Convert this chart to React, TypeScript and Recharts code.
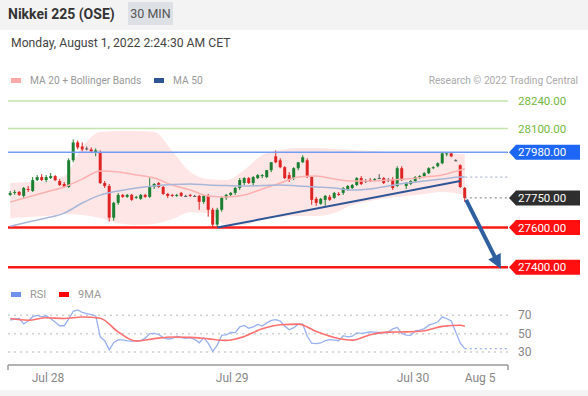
import React from 'react';
import { ComposedChart, Bar, Line, Area, XAxis, YAxis, ReferenceLine } from 'recharts';

const FONT = 'Roboto, "Open Sans", Arial, sans-serif';

// 30 min candles, Jul 28 -> Aug 1
const opens = [
  27765, 27775, 27780, 27760, 27795, 27785, 27840, 27855, 27840, 27850,
  27860, 27835, 27820, 27805, 27940, 28030, 28010, 28000, 27995, 27980,
  27980, 27825, 27810, 27650, 27725, 27765, 27755, 27765, 27750, 27745,
  27765, 27755, 27805, 27825, 27805, 27770, 27765, 27760, 27775, 27760,
  27765, 27760, 27760, 27730, 27760, 27690, 27615, 27690, 27750, 27765,
  27775, 27800, 27825, 27850, 27825, 27850, 27860, 27855, 27890, 27960,
  27940, 27905, 27865, 27850, 27900, 27930, 27940, 27855, 27745, 27720,
  27740, 27755, 27750, 27770, 27775, 27790, 27800, 27815, 27850, 27835,
  27840, 27840, 27850, 27850, 27840, 27845, 27810, 27900, 27810, 27820,
  27835, 27850, 27860, 27875, 27900, 27910, 27925, 27970, 27975, 27940,
  27915, 27800,
];
const highs = [
  27785, 27790, 27785, 27805, 27810, 27855, 27865, 27870, 27865, 27875,
  27865, 27845, 27830, 27950, 28045, 28040, 28030, 28010, 28005, 28000,
  27990, 27835, 27820, 27730, 27775, 27770, 27770, 27770, 27760, 27770,
  27770, 27850, 27825, 27830, 27810, 27775, 27770, 27770, 27780, 27765,
  27770, 27765, 27765, 27765, 27770, 27700, 27700, 27755, 27770, 27780,
  27805, 27850, 27855, 27855, 27860, 27870, 27870, 27890, 27930, 27990,
  27950, 27910, 27880, 27905, 27930, 27965, 27950, 27860, 27755, 27750,
  27765, 27765, 27780, 27780, 27805, 27815, 27820, 27855, 27860, 27845,
  27850, 27850, 27870, 27855, 27850, 27855, 27910, 27910, 27830, 27840,
  27860, 27865, 27880, 27905, 27910, 27930, 27980, 27980, 27980, 27945,
  27920, 27805,
];
const lows = [
  27760, 27765, 27760, 27750, 27780, 27780, 27835, 27835, 27830, 27845,
  27835, 27810, 27800, 27800, 27930, 27995, 27985, 27990, 27980, 27960,
  27820, 27800, 27630, 27635, 27715, 27750, 27750, 27735, 27745, 27740,
  27750, 27750, 27795, 27800, 27765, 27750, 27755, 27755, 27755, 27755,
  27755, 27755, 27690, 27720, 27655, 27600, 27600, 27680, 27740, 27755,
  27765, 27790, 27815, 27820, 27815, 27845, 27850, 27850, 27880, 27925,
  27900, 27845, 27830, 27840, 27890, 27925, 27850, 27715, 27710, 27715,
  27710, 27735, 27745, 27760, 27765, 27785, 27795, 27810, 27815, 27825,
  27830, 27835, 27845, 27820, 27830, 27790, 27805, 27835, 27795, 27815,
  27830, 27845, 27855, 27870, 27895, 27905, 27920, 27960, 27955, 27935,
  27800, 27730,
];
const closes = [
  27775, 27780, 27765, 27800, 27790, 27840, 27855, 27840, 27855, 27860,
  27840, 27815, 27805, 27940, 28030, 28005, 27995, 28000, 27985, 27990,
  27825, 27810, 27650, 27725, 27765, 27755, 27765, 27740, 27755, 27765,
  27755, 27805, 27820, 27805, 27770, 27760, 27760, 27765, 27760, 27760,
  27760, 27760, 27730, 27760, 27690, 27615, 27690, 27750, 27765, 27775,
  27800, 27840, 27850, 27825, 27855, 27865, 27865, 27890, 27930, 27930,
  27905, 27850, 27840, 27900, 27930, 27955, 27855, 27740, 27725, 27745,
  27760, 27740, 27775, 27765, 27800, 27810, 27815, 27850, 27820, 27835,
  27835, 27845, 27850, 27825, 27840, 27800, 27900, 27840, 27825, 27835,
  27855, 27860, 27875, 27900, 27905, 27925, 27975, 27975, 27960, 27940,
  27805, 27750,
];

// indicator readings, sampled every 4 candles
const bandIdx = [0, 4, 8, 12, 16, 20, 24, 28, 32, 36, 40, 44, 48, 52, 56, 60, 64, 68, 72, 76, 80, 84, 88, 92, 96, 100, 101];
const bbUpper = [27825, 27830, 27835, 27860, 28007, 28083, 28088, 28088, 28083, 27987, 27881, 27845, 27840, 27891, 27967, 27992, 28002, 28002, 27997, 27992, 27987, 27982, 27982, 27977, 27977, 27972, 27972];
const bbLower = [27648, 27653, 27658, 27668, 27663, 27648, 27623, 27613, 27618, 27643, 27678, 27673, 27613, 27613, 27643, 27653, 27658, 27658, 27673, 27714, 27734, 27749, 27759, 27769, 27780, 27769, 27759];
const ma20 = [27729, 27754, 27780, 27805, 27845, 27886, 27881, 27866, 27850, 27815, 27790, 27759, 27754, 27764, 27795, 27825, 27855, 27860, 27845, 27835, 27835, 27840, 27845, 27855, 27866, 27891, 27896];
const ma50 = [27607, 27628, 27648, 27673, 27724, 27764, 27785, 27800, 27810, 27817, 27820, 27815, 27812, 27810, 27812, 27815, 27810, 27805, 27800, 27790, 27795, 27810, 27825, 27835, 27845, 27855, 27855];
const rsi9ma = [66.4, 64.6, 67.3, 66.4, 68.1, 66.8, 51.8, 42.0, 44.6, 46.4, 46.0, 44.3, 42.7, 47.0, 55.3, 59.7, 60.3, 52.4, 45.9, 43.0, 48.9, 51.7, 51.9, 53.1, 57.9, 59.2, 58.1];

const rsiValues = [
  64.6, 65.9, 66.4, 60.5, 63.8, 68.4, 69.8, 68.2, 69.4, 66.2,
  62.4, 58.6, 58.6, 66.0, 74.3, 75.7, 73.0, 71.8, 70.6, 69.2,
  46.4, 42.4, 32.4, 40.5, 43.2, 43.3, 42.2, 41.8, 42.3, 42.4,
  45.1, 50.0, 50.2, 49.1, 45.7, 44.2, 44.5, 47.3, 45.7, 44.9,
  45.8, 43.8, 40.1, 45.6, 39.4, 30.8, 37.6, 48.4, 48.7, 51.4,
  51.1, 57.4, 58.9, 55.9, 57.4, 60.1, 58.3, 61.7, 64.4, 65.2,
  63.6, 58.1, 54.2, 56.5, 60.2, 60.3, 47.2, 39.6, 39.2, 39.9,
  42.5, 43.5, 42.9, 42.3, 47.8, 46.6, 47.2, 50.8, 50.4, 51.0,
  52.0, 51.6, 51.3, 51.0, 51.8, 55.2, 56.7, 50.2, 48.4, 48.2,
  53.0, 53.8, 55.5, 59.2, 60.8, 62.6, 68.3, 66.2, 63.7, 51.6,
  39.7, 33.8,
];

// key levels and drawings
const levelPrices = [28240, 28100, 27980, 27750, 27600, 27400];
const levelKinds = ['target', 'target', 'pivot', 'last', 'support', 'support'];
const trendIdx = [46, 100];
const trendPrice = [27600, 27835];
const arrowIdx = [101.3, 108.6];
const arrowPrice = [27740, 27410];
const maMarkIdx = [100, 110.6];
const maMarkPrice = 27855;
const lastMarkIdx = [101, 110.6];
const lastPrice = 27750;
const rsiTailIdx = [101, 110.6];

const xTickIdx = [8.4, 49.3, 89.5, 104.4];
const xTickLabels = ['Jul 28', 'Jul 29', 'Jul 30', 'Aug 5'];
const rsiTicks = [30, 50, 70];

const X_DOMAIN: [number, number] = [-0.5, 110.6];
const PRICE_DOMAIN: [number, number] = [27330, 28290];
const RSI_DOMAIN: [number, number] = [16, 80];

const GREEN = '#1d7f31';
const RED = '#e02424';

const candles = opens.map((o, i) => ({ i, open: o, high: highs[i], low: lows[i], close: closes[i] }));
const bandData = bandIdx.map((i, k) => ({ i, up: bbUpper[k], lo: bbLower[k], ma20: ma20[k], ma50: ma50[k], ma9: rsi9ma[k] }));
const rsiData = rsiValues.map((v, i) => ({ i, v }));
const trendData = trendIdx.map((i, k) => ({ i, v: trendPrice[k] }));
const arrowData = arrowIdx.map((i, k) => ({ i, v: arrowPrice[k] }));
const maMarkData = maMarkIdx.map((i) => ({ i, v: maMarkPrice }));
const lastMarkData = lastMarkIdx.map((i) => ({ i, v: lastPrice }));
const rsiTailData = rsiTailIdx.map((i) => ({ i, v: rsiValues[rsiValues.length - 1] }));

function CandleShape(props: any) {
  const { x, y, width, height, payload } = props;
  if (x == null || y == null || !payload) return null;
  const top = Math.min(y, y + height);
  const h = Math.abs(height);
  const { open, close, high, low } = payload;
  const span = high - low || 1;
  const py = (p: number) => top + ((high - p) / span) * h;
  const cx = x + width / 2;
  const color = close > open ? GREEN : close < open ? RED : '#555';
  const bTop = py(Math.max(open, close));
  const bBot = py(Math.min(open, close));
  return (
    <g>
      <line x1={cx} x2={cx} y1={top} y2={top + h} stroke={color} strokeWidth={1} />
      <rect x={cx - 1.5} y={bTop} width={3} height={Math.max(1, bBot - bTop)} fill={color} />
    </g>
  );
}

function LevelTag(props: any) {
  const { x, y, payload } = props;
  const k = levelPrices.indexOf(payload.value);
  const kind = levelKinds[k];
  const label = Number(payload.value).toFixed(2);
  if (kind === 'target') {
    return (
      <text x={x + 10} y={y + 4} fill="#72b83e" fontSize={11.5} fontFamily={FONT}>
        {label}
      </text>
    );
  }
  const fill = kind === 'pivot' ? '#1e66f5' : kind === 'last' ? '#2e2e2e' : '#ff0f0f';
  return (
    <g>
      <path d={`M${x + 1},${y} L${x + 8},${y - 7.5} L${x + 72},${y - 7.5} L${x + 72},${y + 7.5} L${x + 8},${y + 7.5} Z`} fill={fill} />
      <text x={x + 10} y={y + 4} fill="#fff" fontSize={11.5} fontFamily={FONT}>
        {label}
      </text>
    </g>
  );
}

function RsiTick(props: any) {
  const { x, y, payload } = props;
  return (
    <text x={x + 10} y={y + 4} fill="#888" fontSize={12} fontFamily={FONT}>
      {payload.value}
    </text>
  );
}

function DateTick(props: any) {
  const { x, y, payload } = props;
  const k = xTickIdx.indexOf(payload.value);
  if (k < 0) return <line x1={x} x2={x} y1={y} y2={y + 5} stroke="#9a9a9a" strokeWidth={1.5} />;
  return (
    <text x={x} y={y + 17} fill="#888" fontSize={12} textAnchor="middle" fontFamily={FONT}>
      {xTickLabels[k]}
    </text>
  );
}

export default function App() {
  const arrowPts: { x: number; y: number }[] = [];
  const arrowDot = (p: any) => {
    arrowPts[p.index] = { x: p.cx, y: p.cy };
    if (p.index !== 1 || !arrowPts[0]) return <g key={`ad${p.index}`} />;
    const a = Math.atan2(p.cy - arrowPts[0].y, p.cx - arrowPts[0].x);
    const ux = Math.cos(a);
    const uy = Math.sin(a);
    const tipX = p.cx + ux * 4;
    const tipY = p.cy + uy * 4;
    const bx = p.cx - ux * 10;
    const by = p.cy - uy * 10;
    const d = `M${tipX},${tipY} L${bx - uy * 7},${by + ux * 7} L${bx + uy * 7},${by - ux * 7} Z`;
    return <path key="ad1" d={d} fill="#2f5fa0" />;
  };

  const label: React.CSSProperties = { position: 'absolute', whiteSpace: 'nowrap' };

  return (
    <div style={{ position: 'absolute', left: 0, top: 0, width: 588, height: 396, background: '#fff', overflow: 'hidden', fontFamily: FONT }}>
      <div style={{ position: 'absolute', left: 0, top: 0, width: 588, height: 30, background: '#f3f3f3' }} />
      <div style={{ ...label, left: 8, top: 6, fontSize: 14, lineHeight: '16px', fontWeight: 700, color: '#333' }}>Nikkei 225 (OSE)</div>
      <div style={{ ...label, left: 128, top: 2, width: 45, height: 23, background: '#dde1e6', color: '#555', fontSize: 12.5, display: 'flex', alignItems: 'center', justifyContent: 'center' }}>30 MIN</div>
      <div style={{ ...label, left: 11, top: 35, fontSize: 12.2, lineHeight: '16px', color: '#444' }}>Monday, August 1, 2022 2:24:30 AM CET</div>

      <div style={{ ...label, left: 11, top: 78, width: 10, height: 5, background: '#ffaaaa' }} />
      <div style={{ ...label, left: 30, top: 74, fontSize: 10.2, lineHeight: '13px', color: '#999' }}>MA 20 + Bollinger Bands</div>
      <div style={{ ...label, left: 154, top: 78, width: 10, height: 5, background: '#2f5597' }} />
      <div style={{ ...label, left: 173, top: 74, fontSize: 10.2, lineHeight: '13px', color: '#999' }}>MA 50</div>
      <div style={{ ...label, right: 10, top: 74, fontSize: 10.2, lineHeight: '13px', color: '#aaa' }}>Research © 2022 Trading Central</div>

      <div style={{ position: 'absolute', left: 0, top: 91 }}>
        <ComposedChart width={588} height={190} data={candles} margin={{ top: 0, right: 0, bottom: 0, left: 8 }}>
          <XAxis type="number" dataKey="i" domain={X_DOMAIN} allowDataOverflow hide />
          <YAxis
            orientation="right"
            type="number"
            domain={PRICE_DOMAIN}
            allowDataOverflow
            ticks={levelPrices}
            interval={0}
            tick={(p: any) => <LevelTag {...p} />}
            tickSize={0}
            tickMargin={0}
            axisLine={false}
            tickLine={false}
            width={80}
          />
          <Area data={bandData} dataKey={(d: any) => [d.lo, d.up]} type="monotone" stroke="none" fill="#ffe0e0" fillOpacity={0.8} isAnimationActive={false} />
          <ReferenceLine y={28240} stroke="#c4e4ad" strokeWidth={1.5} />
          <ReferenceLine y={28100} stroke="#c4e4ad" strokeWidth={1.5} />
          <ReferenceLine y={27980} stroke="#739cf2" strokeWidth={1.5} />
          <ReferenceLine y={27600} stroke="#ff1a1a" strokeWidth={2.5} />
          <ReferenceLine y={27400} stroke="#ff1a1a" strokeWidth={2.5} />
          <Line data={bandData} dataKey="ma20" type="monotone" stroke="#ffb0b0" strokeWidth={1.5} dot={false} activeDot={false} isAnimationActive={false} />
          <Line data={bandData} dataKey="ma50" type="monotone" stroke="#a8b6d8" strokeWidth={1.5} dot={false} activeDot={false} isAnimationActive={false} />
          <Line data={maMarkData} dataKey="v" stroke="#9aa6c8" strokeWidth={1} strokeDasharray="2 3" dot={false} activeDot={false} isAnimationActive={false} />
          <Line data={lastMarkData} dataKey="v" stroke="#777" strokeWidth={1} strokeDasharray="2 3" dot={false} activeDot={false} isAnimationActive={false} />
          <Line data={trendData} dataKey="v" stroke="#2f5597" strokeWidth={2} dot={false} activeDot={false} isAnimationActive={false} />
          <Bar dataKey={(d: any) => [d.low, d.high]} shape={CandleShape} barSize={3} isAnimationActive={false} />
          <Line data={arrowData} dataKey="v" stroke="#2f5fa0" strokeWidth={4} dot={arrowDot} activeDot={false} isAnimationActive={false} />
        </ComposedChart>
      </div>

      <div style={{ ...label, left: 11, top: 292, width: 10, height: 5, background: '#6f93ec' }} />
      <div style={{ ...label, left: 30, top: 288, fontSize: 11, lineHeight: '13px', color: '#999' }}>RSI</div>
      <div style={{ ...label, left: 59, top: 292, width: 10, height: 5, background: '#ff0000' }} />
      <div style={{ ...label, left: 78, top: 288, fontSize: 11, lineHeight: '13px', color: '#999' }}>9MA</div>

      <div style={{ position: 'absolute', left: 0, top: 306 }}>
        <ComposedChart width={588} height={84} data={rsiData} margin={{ top: 0, right: 0, bottom: 0, left: 8 }}>
          <XAxis
            type="number"
            dataKey="i"
            domain={X_DOMAIN}
            allowDataOverflow
            ticks={[X_DOMAIN[0], ...xTickIdx, X_DOMAIN[1]]}
            interval={0}
            tick={(p: any) => <DateTick {...p} />}
            tickSize={0}
            tickMargin={0}
            tickLine={false}
            axisLine={{ stroke: '#9a9a9a', strokeWidth: 1.5 }}
            height={25}
          />
          <YAxis
            orientation="right"
            type="number"
            domain={RSI_DOMAIN}
            allowDataOverflow
            ticks={rsiTicks}
            interval={0}
            tick={(p: any) => <RsiTick {...p} />}
            tickSize={0}
            tickMargin={0}
            axisLine={false}
            tickLine={false}
            width={80}
          />
          {rsiTicks.map((t) => (
            <ReferenceLine key={t} y={t} stroke="#cfcfcf" strokeDasharray="2 4" strokeWidth={1.5} />
          ))}
          <Line dataKey="v" stroke="#98b0f0" strokeWidth={1.3} dot={false} activeDot={false} isAnimationActive={false} />
          <Line data={rsiTailData} dataKey="v" stroke="#98b0f0" strokeWidth={1.3} strokeDasharray="2 3" dot={false} activeDot={false} isAnimationActive={false} />
          <Line data={bandData} dataKey="ma9" type="monotone" stroke="#ff7070" strokeWidth={1.6} dot={false} activeDot={false} isAnimationActive={false} />
        </ComposedChart>
      </div>

      <div style={{ position: 'absolute', left: 0, top: 390, width: 588, height: 6, background: '#f4f4f4' }} />
    </div>
  );
}
